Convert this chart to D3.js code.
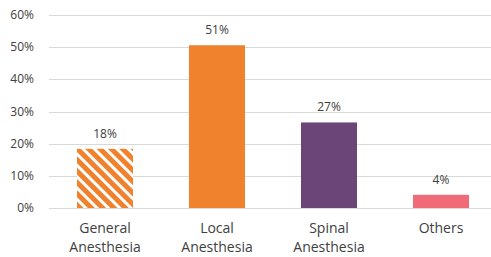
<!DOCTYPE html>
<html>
<head>
<meta charset="utf-8">
<script src="https://cdn.jsdelivr.net/npm/d3@7"></script>
<style>
  body { margin: 0; background: #fff; }
  text { font-family: "Open Sans", Lato, sans-serif; fill: #404040; }
</style>
</head>
<body>
<script>
const width = 491;
const height = 257;

const categories = [["General", "Anesthesia"], ["Local", "Anesthesia"], ["Spinal", "Anesthesia"], ["Others"]];
const values = [18.4, 50.6, 26.6, 4.1];
const barColors = ["url(#hatch)", "#F0822D", "#6B4478", "#F06B77"];
const yTicks = [0, 10, 20, 30, 40, 50, 60];

const x = d3.scaleBand()
    .domain(d3.range(categories.length))
    .range([49, 497])
    .paddingInner(0.5)
    .paddingOuter(0.25);

const y = d3.scaleLinear()
    .domain([0, 60])
    .range([208, 15]);

const svg = d3.select("body")
    .append("svg")
    .attr("width", width)
    .attr("height", height);

// diagonal stripes for the first bar
const pat = svg.append("defs").append("pattern")
    .attr("id", "hatch")
    .attr("patternUnits", "userSpaceOnUse")
    .attr("width", 8)
    .attr("height", 8)
    .attr("patternTransform", "rotate(-45)");
pat.append("rect").attr("width", 8).attr("height", 8).attr("fill", "#F0822D");
pat.append("rect").attr("width", 3).attr("height", 8).attr("fill", "#fff");

// gridlines
svg.selectAll("line.grid")
    .data(yTicks)
    .enter()
    .append("line")
    .attr("class", "grid")
    .attr("x1", 49)
    .attr("x2", 491)
    .attr("y1", d => Math.round(y(d)) + 0.5)
    .attr("y2", d => Math.round(y(d)) + 0.5)
    .style("stroke", "#d9d9d9")
    .style("stroke-width", 1);

svg.selectAll("text.ytick")
    .data(yTicks)
    .enter()
    .append("text")
    .attr("class", "ytick")
    .attr("x", 34)
    .attr("y", d => y(d) + 4)
    .attr("text-anchor", "end")
    .style("font-size", "12px")
    .text(d => d + "%");

svg.selectAll("rect.bar")
    .data(values)
    .enter()
    .append("rect")
    .attr("class", "bar")
    .attr("x", (d, i) => x(i))
    .attr("width", x.bandwidth())
    .attr("y", d => y(d))
    .attr("height", d => y(0) - y(d))
    .style("fill", (d, i) => barColors[i]);

svg.selectAll("text.val")
    .data(values)
    .enter()
    .append("text")
    .attr("class", "val")
    .attr("x", (d, i) => x(i) + x.bandwidth() / 2)
    .attr("y", d => y(d) - 11)
    .attr("text-anchor", "middle")
    .style("font-size", "12px")
    .text(d => d3.format(".0f")(d) + "%");

const cat = svg.selectAll("text.cat")
    .data(categories)
    .enter()
    .append("text")
    .attr("class", "cat")
    .attr("x", (d, i) => x(i) + x.bandwidth() / 2)
    .attr("y", 233)
    .attr("text-anchor", "middle")
    .style("font-size", "14px");

cat.selectAll("tspan")
    .data(d => d)
    .enter()
    .append("tspan")
    .attr("x", function() { return d3.select(this.parentNode).attr("x"); })
    .attr("dy", (d, i) => i === 0 ? 0 : 19)
    .text(d => d);
</script>
</body>
</html>
